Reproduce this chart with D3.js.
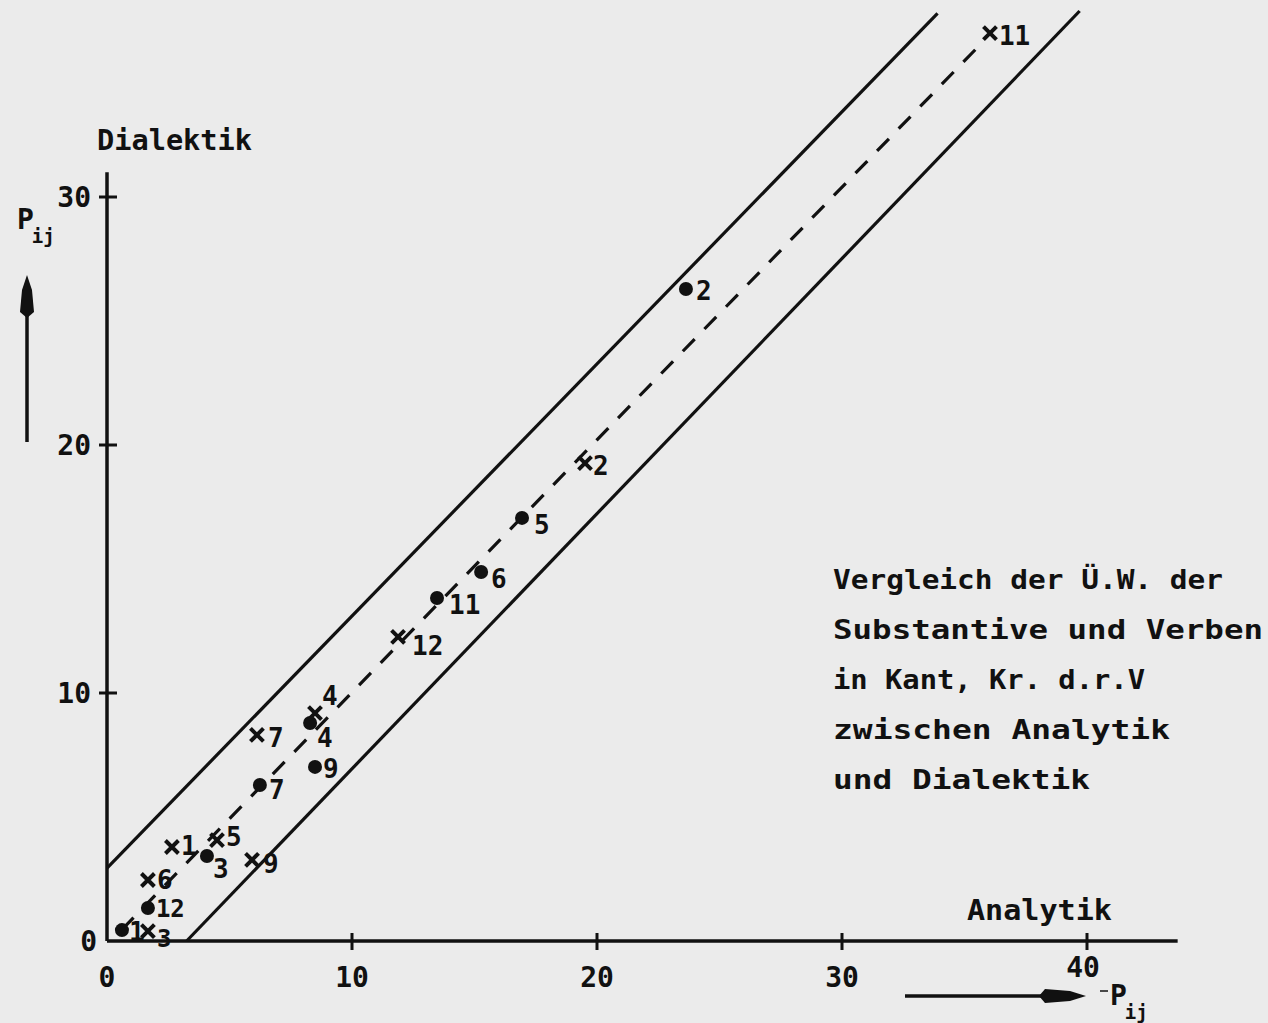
<!DOCTYPE html>
<html>
<head>
<meta charset="utf-8">
<script src="https://cdn.jsdelivr.net/npm/d3@7"></script>
<style>
  html, body { margin: 0; padding: 0; background: #ebebeb; }
  svg { display: block; }
  text { font-family: "DejaVu Sans Mono", monospace; font-weight: bold; fill: #111; }
</style>
</head>
<body>
<svg id="chart" width="1268" height="1023"></svg>
<script>
// word frequencies (Ü.W.) Analytik (x) vs Dialektik (y)
const dotIds = ["1", "12", "3", "7", "4", "9", "11", "6", "5", "2"];
const dotX   = [0.61, 1.67, 4.08, 6.24, 8.29, 8.49, 13.47, 15.27, 16.94, 23.63];
const dotY   = [0.44, 1.33, 3.43, 6.29, 8.79, 7.02, 13.83, 14.88, 17.06, 26.29];

const crossIds = ["1", "6", "3", "5", "9", "7", "4", "12", "2", "11"];
const crossX   = [2.65, 1.67, 1.67, 4.49, 5.92, 6.12, 8.49, 11.88, 19.51, 36.04];
const crossY   = [3.79, 2.46, 0.40, 4.07, 3.27, 8.31, 9.19, 12.26, 19.27, 36.61];

// band lines and the mean line
const upperLine = [[0, 2.94], [33.9, 37.4]];
const lowerLine = [[3.25, 0], [39.7, 37.5]];
const meanLine  = [[0.6, 0.45], [35.5, 36.0]];

const xTicks = [0, 10, 20, 30, 40];
const yTicks = [0, 10, 20, 30];

const noteLines = ["Vergleich der Ü.W. der", "Substantive und Verben", "in Kant, Kr. d.r.V",
                   "zwischen Analytik", "und Dialektik"];

// label placement (px, relative to the mark)
const dotLabelOff = {"1":[7,11], "12":[8,9], "3":[6,22], "7":[9,14], "4":[7,24], "9":[8,11],
                     "11":[12,16], "6":[10,16], "5":[12,16], "2":[10,11]};
const crossLabelOff = {"1":[9,8], "6":[9,9], "3":[9,16], "5":[9,6], "9":[11,13], "7":[11,12],
                       "4":[7,-8], "12":[14,18], "2":[8,12], "11":[9,12]};
const noteWidths = [390, 430, 312, 337, 257];

const ink = "#111";
const svg = d3.select("#chart");

const x = d3.scaleLinear().domain([0, 40]).range([107, 1087]);
const y = d3.scaleLinear().domain([0, 30]).range([941, 197]);

const line = d3.line().x(d => x(d[0])).y(d => y(d[1]));

// axes
svg.append("line").attr("x1", x(0)).attr("x2", x(43.7)).attr("y1", y(0)).attr("y2", y(0))
    .attr("stroke", ink).attr("stroke-width", 3.5);
svg.append("line").attr("x1", x(0)).attr("x2", x(0)).attr("y1", y(0)).attr("y2", y(31))
    .attr("stroke", ink).attr("stroke-width", 3.5);

svg.selectAll("line.xt").data(xTicks.filter(d => d > 0)).enter().append("line")
    .attr("class", "xt")
    .attr("x1", d => x(d)).attr("x2", d => x(d))
    .attr("y1", y(0) - 8).attr("y2", y(0) + 9)
    .attr("stroke", ink).attr("stroke-width", 3);
svg.selectAll("line.yt").data(yTicks.filter(d => d > 0)).enter().append("line")
    .attr("class", "yt")
    .attr("x1", x(0) - 8).attr("x2", x(0) + 10)
    .attr("y1", d => y(d)).attr("y2", d => y(d))
    .attr("stroke", ink).attr("stroke-width", 3);

svg.selectAll("text.xl").data(xTicks).enter().append("text")
    .attr("class", "xl")
    .attr("x", d => x(d) + (d == 40 ? -4 : 0)).attr("y", d => d == 40 ? y(0) + 36 : y(0) + 46)
    .attr("text-anchor", "middle").attr("font-size", 28)
    .text(d => d);
svg.selectAll("text.yl").data(yTicks).enter().append("text")
    .attr("class", "yl")
    .attr("x", d => d == 0 ? x(0) - 10 : x(0) - 16).attr("y", d => y(d) + 10)
    .attr("text-anchor", "end").attr("font-size", 28)
    .text(d => d);

// axis titles
svg.append("text").attr("x", 97).attr("y", 150).attr("font-size", 28)
    .attr("textLength", 155).attr("lengthAdjust", "spacingAndGlyphs").text("Dialektik");
svg.append("text").attr("x", 967).attr("y", 920).attr("font-size", 29)
    .attr("textLength", 145).attr("lengthAdjust", "spacingAndGlyphs").text("Analytik");

const pLabel = (px, py) => {
    const t = svg.append("text").attr("x", px).attr("y", py).attr("font-size", 28);
    t.append("tspan").text("P");
    t.append("tspan").attr("font-size", 19).attr("dy", 14).attr("dx", -2).text("ij");
};
pLabel(17, 229);
pLabel(1110, 1005);
svg.append("line").attr("x1", 1100).attr("x2", 1108).attr("y1", 991).attr("y2", 991)
    .attr("stroke", ink).attr("stroke-width", 1.5);

// arrows
svg.append("line").attr("x1", 27).attr("x2", 27).attr("y1", 442).attr("y2", 300)
    .attr("stroke", ink).attr("stroke-width", 3.5);
svg.append("path").attr("d", "M27,275 L32,290 L34,312 L27,318 L20,312 L22,290 Z").attr("fill", ink);
svg.append("line").attr("x1", 905).attr("x2", 1050).attr("y1", 996).attr("y2", 996)
    .attr("stroke", ink).attr("stroke-width", 3.5);
svg.append("path").attr("d", "M1086,996 L1070,1001 L1045,1003 L1039,996 L1045,989 L1070,991 Z").attr("fill", ink);

// band and mean line
svg.append("path").attr("d", line(upperLine)).attr("stroke", ink).attr("stroke-width", 3.2).attr("fill", "none");
svg.append("path").attr("d", line(lowerLine)).attr("stroke", ink).attr("stroke-width", 3.2).attr("fill", "none");
svg.append("path").attr("d", line(meanLine)).attr("stroke", ink).attr("stroke-width", 3.2)
    .attr("stroke-dasharray", "17,14").attr("fill", "none");

// dots
const dots = dotIds.map((id, i) => ({id: id, x: dotX[i], y: dotY[i]}));
svg.selectAll("circle.dot").data(dots).enter().append("circle")
    .attr("class", "dot")
    .attr("cx", d => x(d.x)).attr("cy", d => y(d.y)).attr("r", 7).attr("fill", ink);
svg.selectAll("text.dl").data(dots).enter().append("text")
    .attr("class", "dl")
    .attr("x", d => x(d.x) + dotLabelOff[d.id][0]).attr("y", d => y(d.y) + dotLabelOff[d.id][1])
    .attr("font-size", d => d.id == "12" ? 24 : 26).text(d => d.id);

// crosses
const crosses = crossIds.map((id, i) => ({id: id, x: crossX[i], y: crossY[i]}));
const cs = 6.5;
svg.selectAll("path.cross").data(crosses).enter().append("path")
    .attr("class", "cross")
    .attr("d", d => {
        const cx = x(d.x), cy = y(d.y);
        return `M${cx - cs},${cy - cs}L${cx + cs},${cy + cs}M${cx - cs},${cy + cs}L${cx + cs},${cy - cs}`;
    })
    .attr("stroke", ink).attr("stroke-width", 4).attr("fill", "none");
svg.selectAll("text.cl").data(crosses).enter().append("text")
    .attr("class", "cl")
    .attr("x", d => x(d.x) + crossLabelOff[d.id][0]).attr("y", d => y(d.y) + crossLabelOff[d.id][1])
    .attr("font-size", d => d.id == "3" ? 24 : 26).text(d => d.id);

// note
svg.selectAll("text.note").data(noteLines).enter().append("text")
    .attr("class", "note")
    .attr("x", 833).attr("y", (d, i) => 589 + i * 50)
    .attr("font-size", 27)
    .attr("textLength", (d, i) => noteWidths[i]).attr("lengthAdjust", "spacingAndGlyphs")
    .text(d => d);
</script>
</body>
</html>
